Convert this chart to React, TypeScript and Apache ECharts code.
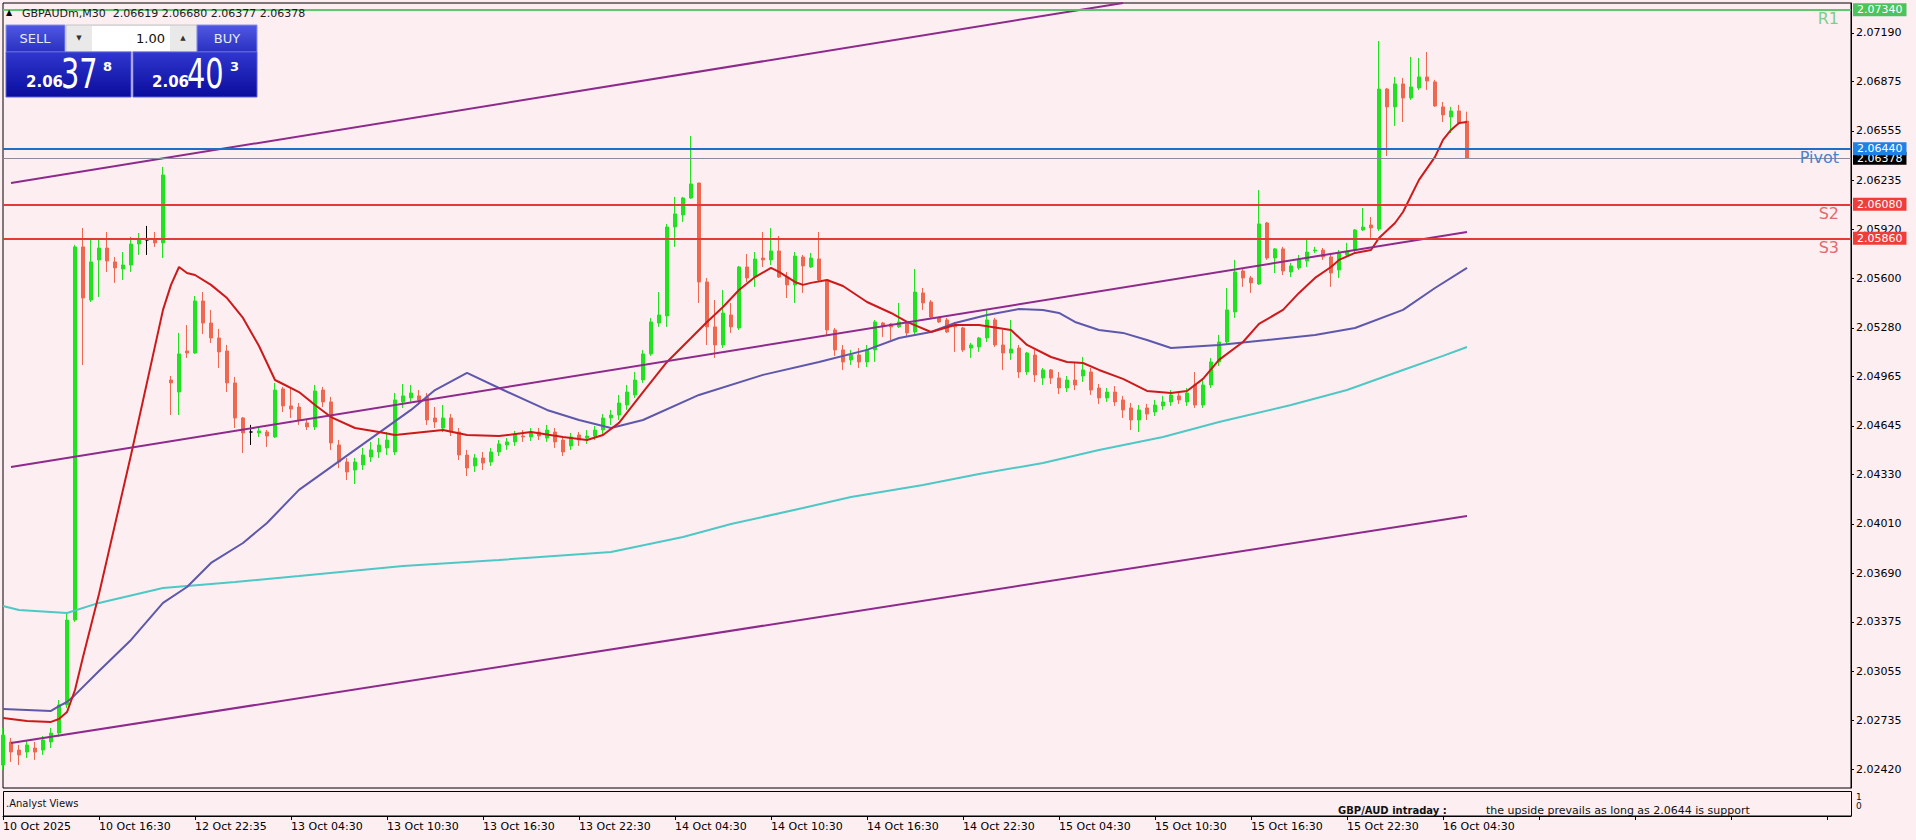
import React, { useEffect, useRef } from "react";
import * as echarts from "echarts";

// ---------- DATA ----------
const symbolTitle = "GBPAUDm,M30";
const xLabels = [
  "10 Oct 2025", "10 Oct 16:30", "12 Oct 22:35", "13 Oct 04:30", "13 Oct 10:30", "13 Oct 16:30",
  "13 Oct 22:30", "14 Oct 04:30", "14 Oct 10:30", "14 Oct 16:30", "14 Oct 22:30", "15 Oct 04:30",
  "15 Oct 10:30", "15 Oct 16:30", "15 Oct 22:30", "16 Oct 04:30",
];
const barsPerLabel = 12;
const totalSlots = 232;
const yTicks = [2.0719, 2.06875, 2.06555, 2.06235, 2.0592, 2.056, 2.0528, 2.04965, 2.04645, 2.0433, 2.0401, 2.0369, 2.03375, 2.03055, 2.02735, 2.0242];
const yMin = 2.02299;
const yMax = 2.07384;

// [open, high, low, close]
const ohlc: number[][] = [
  [2.02448, 2.02688, 2.02416, 2.02642], [2.02597, 2.02623, 2.02468, 2.02532], [2.02545, 2.02578, 2.02448, 2.02513],
  [2.02532, 2.0261, 2.02493, 2.02578], [2.02558, 2.02597, 2.02481, 2.02532], [2.02545, 2.02636, 2.02513, 2.0261],
  [2.02597, 2.02688, 2.02558, 2.02655], [2.02655, 2.02869, 2.0263, 2.02837], [2.02837, 2.03433, 2.02817, 2.03387],
  [2.03387, 2.05817, 2.03375, 2.05804], [2.05804, 2.05927, 2.05039, 2.05473], [2.0546, 2.05862, 2.05447, 2.05707],
  [2.0572, 2.05849, 2.0548, 2.05797], [2.05797, 2.05901, 2.05642, 2.05713], [2.05707, 2.05739, 2.05571, 2.05668],
  [2.05661, 2.05771, 2.0559, 2.05687], [2.05687, 2.05869, 2.05642, 2.05823], [2.05823, 2.05894, 2.05752, 2.05856],
  [2.05849, 2.0594, 2.05752, 2.05849], [2.05856, 2.05901, 2.05804, 2.0583], [2.0583, 2.06322, 2.05732, 2.0627],
  [2.04942, 2.04968, 2.04715, 2.04923], [2.04864, 2.05247, 2.04715, 2.05111], [2.0513, 2.05298, 2.05085, 2.05117],
  [2.05117, 2.05486, 2.05111, 2.05454], [2.05454, 2.05512, 2.0524, 2.05311], [2.05311, 2.05396, 2.05182, 2.05214],
  [2.05214, 2.05273, 2.0502, 2.05124], [2.0513, 2.05169, 2.04864, 2.04923], [2.04923, 2.04962, 2.04631, 2.04696],
  [2.04696, 2.04702, 2.04469, 2.04599], [2.04605, 2.04651, 2.04521, 2.04605], [2.04599, 2.04638, 2.04573, 2.04612],
  [2.04605, 2.04618, 2.04508, 2.04579], [2.04573, 2.04923, 2.04566, 2.04877], [2.04884, 2.04897, 2.04735, 2.04774],
  [2.04774, 2.0489, 2.04696, 2.04754], [2.04767, 2.04793, 2.04651, 2.04683], [2.04664, 2.04683, 2.04618, 2.04638],
  [2.04638, 2.0491, 2.04618, 2.04871], [2.04877, 2.04897, 2.04767, 2.048], [2.048, 2.04832, 2.04489, 2.04534],
  [2.04521, 2.04553, 2.04372, 2.04411], [2.04411, 2.04437, 2.04294, 2.04346], [2.04359, 2.04437, 2.04268, 2.04411],
  [2.04392, 2.04502, 2.04359, 2.04456], [2.04443, 2.04541, 2.04411, 2.04489], [2.04476, 2.04566, 2.04437, 2.04521],
  [2.04502, 2.04605, 2.04456, 2.04553], [2.04476, 2.04858, 2.04456, 2.04813], [2.048, 2.04916, 2.04761, 2.04839],
  [2.04826, 2.0491, 2.048, 2.04858], [2.04839, 2.04877, 2.0478, 2.04813], [2.04832, 2.04858, 2.04651, 2.04683],
  [2.04696, 2.04767, 2.04631, 2.0467], [2.04631, 2.0478, 2.04605, 2.04696], [2.04696, 2.04722, 2.04579, 2.04605],
  [2.04605, 2.04631, 2.04424, 2.04456], [2.04456, 2.04489, 2.0432, 2.04372], [2.04385, 2.04463, 2.04346, 2.04437],
  [2.04437, 2.04476, 2.04359, 2.04404], [2.04411, 2.04502, 2.04385, 2.04476], [2.04476, 2.04553, 2.0445, 2.04528],
  [2.04521, 2.04566, 2.04489, 2.04541], [2.04541, 2.04612, 2.04515, 2.04586], [2.04579, 2.04618, 2.04541, 2.04573],
  [2.04573, 2.04631, 2.04547, 2.04605], [2.04605, 2.04631, 2.04553, 2.04579], [2.04566, 2.04651, 2.04541, 2.04618],
  [2.04605, 2.04631, 2.04502, 2.04541], [2.04553, 2.04579, 2.0445, 2.04476], [2.04515, 2.04599, 2.04489, 2.04573],
  [2.04586, 2.04605, 2.04515, 2.04553], [2.04566, 2.04618, 2.04528, 2.04579], [2.04579, 2.04644, 2.04553, 2.04618],
  [2.04618, 2.04722, 2.04592, 2.04696], [2.04696, 2.04748, 2.04651, 2.04715], [2.04715, 2.04845, 2.04683, 2.04793],
  [2.0478, 2.0491, 2.04748, 2.04864], [2.04845, 2.04994, 2.04826, 2.04942], [2.04942, 2.05137, 2.04923, 2.05111],
  [2.05111, 2.05344, 2.05098, 2.05318], [2.05311, 2.05512, 2.05286, 2.05363], [2.05357, 2.05953, 2.05286, 2.05933],
  [2.05933, 2.06128, 2.05804, 2.06018], [2.06011, 2.06128, 2.05966, 2.06121], [2.06121, 2.06523, 2.06115, 2.06212],
  [2.06218, 2.06218, 2.05441, 2.05577], [2.05577, 2.05603, 2.05169, 2.05286], [2.05286, 2.0546, 2.05085, 2.05169],
  [2.05169, 2.05525, 2.05149, 2.05376], [2.05363, 2.05441, 2.05247, 2.05286], [2.05279, 2.05681, 2.05266, 2.05674],
  [2.05674, 2.05758, 2.05577, 2.05603], [2.05609, 2.05771, 2.05545, 2.05726], [2.05732, 2.05901, 2.05674, 2.0572],
  [2.0572, 2.05927, 2.05687, 2.05778], [2.05778, 2.05875, 2.05603, 2.05609], [2.05609, 2.05642, 2.05473, 2.05558],
  [2.05558, 2.05771, 2.05441, 2.05745], [2.05739, 2.05752, 2.05506, 2.05681], [2.05674, 2.05765, 2.05668, 2.05732],
  [2.05726, 2.05901, 2.05577, 2.0559], [2.0559, 2.0559, 2.05234, 2.05266], [2.05266, 2.05279, 2.05098, 2.05137],
  [2.05137, 2.05169, 2.05007, 2.05059], [2.05072, 2.05137, 2.05039, 2.05104], [2.05104, 2.05149, 2.0502, 2.05059],
  [2.05059, 2.05169, 2.05026, 2.05137], [2.05137, 2.05331, 2.05059, 2.05318], [2.05311, 2.05318, 2.05221, 2.05286],
  [2.05305, 2.05311, 2.05201, 2.05286], [2.05286, 2.05441, 2.05279, 2.05318], [2.05311, 2.05318, 2.05221, 2.05247],
  [2.05253, 2.05661, 2.0524, 2.05512], [2.05506, 2.05538, 2.05396, 2.05441], [2.05447, 2.0546, 2.05344, 2.0535],
  [2.05344, 2.0535, 2.05311, 2.05318], [2.05331, 2.05344, 2.05247, 2.05253], [2.05298, 2.05318, 2.05124, 2.05286],
  [2.05279, 2.05286, 2.05124, 2.05137], [2.05149, 2.05182, 2.05085, 2.05169], [2.05156, 2.05221, 2.05124, 2.05214],
  [2.05214, 2.05396, 2.05188, 2.05331], [2.05331, 2.05344, 2.05156, 2.05169], [2.05169, 2.05266, 2.05007, 2.05117],
  [2.05117, 2.05331, 2.05072, 2.05143], [2.05149, 2.05169, 2.04955, 2.04994], [2.04994, 2.05124, 2.04975, 2.05117],
  [2.05104, 2.05137, 2.04929, 2.04975], [2.04955, 2.0502, 2.0491, 2.05007], [2.05007, 2.05013, 2.04916, 2.04955],
  [2.04955, 2.04994, 2.04851, 2.0489], [2.0489, 2.04968, 2.04864, 2.04942], [2.04942, 2.05052, 2.04877, 2.0491],
  [2.04968, 2.05091, 2.04929, 2.05007], [2.04994, 2.0502, 2.04845, 2.04877], [2.0489, 2.04916, 2.04787, 2.04826],
  [2.04826, 2.0489, 2.048, 2.04864], [2.04864, 2.04903, 2.04774, 2.048], [2.04813, 2.04839, 2.04696, 2.04748],
  [2.04761, 2.04793, 2.04618, 2.04683], [2.04683, 2.0478, 2.04605, 2.04748], [2.04761, 2.04787, 2.04683, 2.04722],
  [2.04735, 2.04813, 2.04709, 2.0478], [2.04774, 2.04839, 2.04748, 2.048], [2.048, 2.04877, 2.04774, 2.04845],
  [2.04839, 2.04864, 2.04787, 2.04813], [2.048, 2.0489, 2.04774, 2.04858], [2.0491, 2.04994, 2.04761, 2.0478],
  [2.0478, 2.04955, 2.04761, 2.0491], [2.0491, 2.05085, 2.0489, 2.05059], [2.05059, 2.05234, 2.05033, 2.05188],
  [2.05188, 2.05538, 2.05169, 2.05396], [2.05383, 2.0572, 2.05344, 2.05642], [2.05648, 2.05668, 2.05545, 2.05603],
  [2.05603, 2.05616, 2.05506, 2.05571], [2.05564, 2.06173, 2.05558, 2.05953], [2.05959, 2.05966, 2.0572, 2.05732],
  [2.05732, 2.05797, 2.05635, 2.05791], [2.05791, 2.05804, 2.05622, 2.05648], [2.05642, 2.057, 2.05609, 2.05681],
  [2.05668, 2.05752, 2.05655, 2.0572], [2.05713, 2.05849, 2.05674, 2.05771], [2.05778, 2.05804, 2.05765, 2.05784],
  [2.05784, 2.05797, 2.0572, 2.05739], [2.05739, 2.05765, 2.05545, 2.05635], [2.05655, 2.05784, 2.05603, 2.05765],
  [2.05752, 2.0583, 2.05739, 2.05771], [2.05784, 2.0592, 2.05771, 2.05914], [2.05914, 2.06056, 2.05907, 2.05933],
  [2.05946, 2.05998, 2.05862, 2.05927], [2.0592, 2.07138, 2.05907, 2.06827], [2.06827, 2.06834, 2.06393, 2.06711],
  [2.06711, 2.06905, 2.06588, 2.0686], [2.0686, 2.06899, 2.06613, 2.06769], [2.06769, 2.07035, 2.06756, 2.0684],
  [2.06834, 2.07028, 2.06821, 2.06905], [2.06905, 2.07067, 2.06821, 2.06879], [2.06873, 2.06886, 2.06711, 2.06717],
  [2.06711, 2.06743, 2.06613, 2.06659], [2.06646, 2.06711, 2.06542, 2.06685], [2.06685, 2.06724, 2.06601, 2.06607],
  [2.06619, 2.0668, 2.06377, 2.06378],
];

// moving averages: [bar index, price]
const fastMA: number[][] = [
  [0, 2.02753], [3, 2.02733], [6, 2.02727], [7, 2.02746], [8, 2.02791], [9, 2.02934], [10, 2.03148], [12, 2.03556],
  [16, 2.04456], [20, 2.05396], [21, 2.05558], [22, 2.05674], [23, 2.05635], [24, 2.05622], [26, 2.05558],
  [28, 2.05473], [30, 2.05344], [32, 2.05162], [34, 2.04942], [35, 2.04916], [37, 2.04864], [39, 2.0478],
  [41, 2.04702], [44, 2.04631], [47, 2.04605], [49, 2.04586], [55, 2.04618], [58, 2.04586], [62, 2.04579],
  [66, 2.04605], [70, 2.04573], [73, 2.04553], [75, 2.04586], [77, 2.04664], [80, 2.04864], [83, 2.05059],
  [86, 2.05214], [88, 2.05318], [90, 2.05415], [92, 2.05525], [94, 2.05609], [96, 2.05668], [97, 2.05642],
  [99, 2.05577], [100, 2.05558], [101, 2.05571], [103, 2.0559], [105, 2.05551], [108, 2.05447], [111, 2.05376],
  [113, 2.05318], [116, 2.05253], [119, 2.05298], [122, 2.05298], [126, 2.05266], [128, 2.05169], [131, 2.05091],
  [133, 2.05059], [135, 2.05052], [137, 2.05007], [140, 2.04949], [143, 2.04871], [146, 2.04858], [148, 2.04871],
  [150, 2.04949], [152, 2.05072], [155, 2.05188], [157, 2.05305], [160, 2.05396], [162, 2.05506], [164, 2.05603],
  [166, 2.05674], [167, 2.0572], [169, 2.05765], [171, 2.05784], [172, 2.05862], [174, 2.05959], [175, 2.0603],
  [177, 2.06238], [179, 2.06387], [180, 2.06497], [181, 2.06562], [182, 2.06607], [183, 2.06613],
];
const midMA: number[][] = [
  [0, 2.02811], [6, 2.02798], [7, 2.0283], [8, 2.02856], [9, 2.02902], [12, 2.03057], [16, 2.03258], [20, 2.03498],
  [23, 2.03601], [26, 2.03757], [30, 2.03886], [33, 2.04016], [37, 2.0423], [44, 2.04489], [51, 2.04748],
  [54, 2.04877], [58, 2.04988], [62, 2.0489], [68, 2.04748], [72, 2.04683], [76, 2.04631], [80, 2.04683],
  [87, 2.04845], [95, 2.04975], [102, 2.05059], [108, 2.05137], [112, 2.05214], [116, 2.05253], [119, 2.05311],
  [123, 2.05363], [127, 2.05402], [130, 2.05396], [132, 2.05376], [134, 2.05318], [137, 2.05266], [140, 2.05247],
  [143, 2.05201], [146, 2.05149], [152, 2.05169], [158, 2.05201], [164, 2.05234], [169, 2.05279], [175, 2.05396],
  [179, 2.05538], [183, 2.05668],
];
const slowMA: number[][] = [
  [0, 2.03478], [2, 2.03452], [8, 2.03433], [12, 2.03498], [20, 2.03595], [29, 2.03634], [37, 2.03672],
  [50, 2.03737], [62, 2.03776], [76, 2.03828], [85, 2.03925], [91, 2.04009], [100, 2.04113], [106, 2.04184],
  [115, 2.04262], [122, 2.04333], [130, 2.04404], [137, 2.04489], [145, 2.04573], [152, 2.0467], [161, 2.0478],
  [168, 2.04877], [175, 2.05007], [180, 2.05098], [183, 2.05156],
];
const channelUpper: number[][] = [[1, 2.06218], [140, 2.07384]];
const channelMiddle: number[][] = [[1, 2.04378], [183, 2.05901]];
const channelLower: number[][] = [[1, 2.0259], [183, 2.04061]];

const levelNames = ["R1", "Pivot", "S2", "S3"];
const levelValues = [2.0734, 2.0644, 2.0608, 2.0586];
const lotSize = "1.00";
const sellQuote = ["2.06", "37", "8"];
const buyQuote = ["2.06", "40", "3"];
const panelTitle = ".Analyst Views";
const viewHead = "GBP/AUD intraday :";
const viewText = "the upside prevails as long as 2.0644 is support";

// ---------- STYLE ----------
const BG = "#fdeef2";
const FONT = "DejaVu Sans";
const BULL = "#1ee31e";
const BEAR = "#f0674f";
const levelStyles = [
  { line: "#56c566", text: "#7ccf89", tag: "#4cc35c", width: 1.5 },
  { line: "#1f6ec4", text: "#4584c8", tag: "#1f80e6", width: 2 },
  { line: "#e23b37", text: "#e26a6a", tag: "#ef3e3a", width: 2 },
  { line: "#e23b37", text: "#e26a6a", tag: "#ef3e3a", width: 2 },
];

export default function App() {
  const ref = useRef<HTMLDivElement>(null);

  useEffect(() => {
    document.body.style.margin = "0";
    document.body.style.background = BG;
    if (!ref.current) return;
    const chart = echarts.init(ref.current, undefined, { renderer: "svg" });

    const categories = Array.from({ length: totalSlots }, (_, i) => String(i));
    const candleData = ohlc.map(([o, h, l, c]) =>
      o === c
        ? { value: [o, c, l, h], itemStyle: { color: "#000", color0: "#000", borderColor: "#000", borderColor0: "#000" } }
        : [o, c, l, h]
    );
    const last = ohlc[ohlc.length - 1];
    const lastPrice = last[3];
    const header = `${symbolTitle}  ${last.map((v) => v.toFixed(5)).join(" ")}`;

    const tagLabel = (text: string, bg: string) => ({
      show: true, position: "end", formatter: text, color: "#fff", backgroundColor: bg,
      padding: [1, 4, 0, 4], fontSize: 11, fontFamily: FONT, distance: 2, lineHeight: 12,
    });
    const mk = (data: any[]) => ({ silent: true, precision: 5, symbol: ["none", "none"], animation: false, data });

    const levelSeries: any[] = [];
    levelSeries.push({
      type: "line", data: [], silent: true, clip: false, z: 4,
      markLine: mk([{ yAxis: lastPrice, lineStyle: { color: "#8a8a9c", width: 1, type: "solid" }, label: tagLabel(lastPrice.toFixed(5), "#000") }]),
    });
    levelValues.forEach((v, i) => {
      const s = levelStyles[i];
      levelSeries.push({
        type: "line", data: [], silent: true, clip: false, z: 5,
        markLine: mk([
          {
            yAxis: v, lineStyle: { color: s.line, width: s.width, type: "solid" },
            label: { show: true, position: "insideEndBottom", formatter: levelNames[i], color: s.text, fontSize: 16, fontFamily: FONT, distance: [12, 1] },
          },
        ]),
      });
      levelSeries.push({
        type: "line", data: [], silent: true, clip: false, z: 6,
        markLine: mk([{ yAxis: v, lineStyle: { color: s.line, width: s.width, type: "solid" }, label: tagLabel(v.toFixed(5), s.tag) }]),
      });
    });

    const grad = (a: string, b: string) =>
      new echarts.graphic.LinearGradient(0, 0, 0, 1, [
        { offset: 0, color: a },
        { offset: 1, color: b },
      ]);
    const txt = (x: number, y: number, text: string, font: string, fill: string, align = "left", extra: any = {}) => ({
      type: "text", x, y, z: 100, ...extra,
      style: { text, font, fill, align, verticalAlign: "middle" },
    });

    const graphic: any[] = [
      txt(6, 12, "▲", `8px ${FONT}`, "#000"),
      txt(22, 13, header, `11px ${FONT}`, "#1a1a1a"),
      // one-click trading panel
      { type: "rect", z: 100, shape: { x: 6, y: 25, width: 59, height: 27 }, style: { fill: grad("#5058e2", "#2a30c2"), stroke: "#8a90f0", lineWidth: 1 } },
      txt(35, 38, "SELL", `13px ${FONT}`, "#e6eaff", "center"),
      { type: "rect", z: 100, shape: { x: 66, y: 25, width: 131, height: 27 }, style: { fill: "#e9e9e9", stroke: "#c4c4c4", lineWidth: 1 } },
      { type: "rect", z: 100, shape: { x: 92, y: 26, width: 78, height: 25 }, style: { fill: "#ffffff" } },
      txt(79, 38, "▼", `7px ${FONT}`, "#333", "center"),
      txt(183, 38, "▲", `7px ${FONT}`, "#333", "center"),
      txt(165, 38, lotSize, `13px ${FONT}`, "#111", "right"),
      { type: "rect", z: 100, shape: { x: 197, y: 25, width: 60, height: 27 }, style: { fill: grad("#5058e2", "#2a30c2"), stroke: "#8a90f0", lineWidth: 1 } },
      txt(227, 38, "BUY", `13px ${FONT}`, "#e6eaff", "center"),
      { type: "rect", z: 100, shape: { x: 6, y: 52, width: 125, height: 45 }, style: { fill: grad("#3037cf", "#0a0c9c"), stroke: "#5a60d8", lineWidth: 1 } },
      { type: "rect", z: 100, shape: { x: 133, y: 52, width: 124, height: 45 }, style: { fill: grad("#3037cf", "#0a0c9c"), stroke: "#5a60d8", lineWidth: 1 } },
      txt(26, 82, sellQuote[0], `bold 15px ${FONT}`, "#fff"),
      txt(61, 74, sellQuote[1], `40px ${FONT}`, "#fff", "left", { scaleX: 0.72 }),
      txt(103, 66, sellQuote[2], `bold 13px ${FONT}`, "#fff"),
      txt(152, 82, buyQuote[0], `bold 15px ${FONT}`, "#fff"),
      txt(187, 74, buyQuote[1], `40px ${FONT}`, "#fff", "left", { scaleX: 0.72 }),
      txt(230, 66, buyQuote[2], `bold 13px ${FONT}`, "#fff"),
      // indicator sub-window
      { type: "rect", z: 100, shape: { x: 3.5, y: 791.5, width: 1848, height: 24.5 }, style: { fill: "none", stroke: "#000", lineWidth: 1 } },
      txt(6, 803, panelTitle, `10px ${FONT}`, "#111"),
      txt(1338, 810, viewHead, `bold 10px ${FONT}`, "#111"),
      txt(1486, 810, viewText, `11px ${FONT}`, "#111"),
      txt(1856, 797, "1", `9px ${FONT}`, "#111"),
      txt(1856, 806, "0", `9px ${FONT}`, "#111"),
    ];

    const lineSeries = (data: number[][], color: string, width: number) => ({
      type: "line", data, showSymbol: false, symbol: "none", silent: true,
      lineStyle: { color, width }, z: 3,
    });

    chart.setOption({
      animation: false,
      backgroundColor: BG,
      grid: { left: 3, top: 3, width: 1848, height: 785, show: true, borderColor: "#000", borderWidth: 1, backgroundColor: "transparent", containLabel: false },
      xAxis: {
        type: "category", data: categories, boundaryGap: false, offset: 28,
        axisLine: { show: true, onZero: false, lineStyle: { color: "#000", width: 1 } },
        axisTick: { show: true, interval: barsPerLabel - 1, length: 4, lineStyle: { color: "#000" } },
        axisLabel: {
          interval: barsPerLabel - 1, align: "left", margin: 5, color: "#000", fontSize: 11, fontFamily: FONT,
          formatter: (_v: string, i: number) => (i % barsPerLabel === 0 && xLabels[i / barsPerLabel]) || "",
        },
        splitLine: { show: false },
      },
      yAxis: {
        type: "value", position: "right", min: yMin, max: yMax, scale: true,
        splitLine: { show: false },
        axisLine: { show: true, lineStyle: { color: "#000" } },
        axisTick: { show: true, length: 3, customValues: yTicks, lineStyle: { color: "#000" } },
        axisLabel: { customValues: yTicks, formatter: (v: number) => v.toFixed(5), color: "#000", fontSize: 11, fontFamily: FONT, margin: 5 },
      },
      graphic,
      series: [
        {
          type: "candlestick", data: candleData, barWidth: 4, z: 2,
          itemStyle: { color: BULL, color0: BEAR, borderColor: BULL, borderColor0: BEAR, borderColorDoji: "#000", borderWidth: 1 },
        },
        lineSeries(slowMA, "#4ec8c5", 2),
        lineSeries(midMA, "#5d58ab", 2),
        lineSeries(fastMA, "#cc1a1a", 2),
        lineSeries(channelUpper, "#8e2a8c", 2),
        lineSeries(channelMiddle, "#8e2a8c", 2),
        lineSeries(channelLower, "#8e2a8c", 2),
        ...levelSeries,
      ],
    });

    return () => chart.dispose();
  }, []);

  return <div ref={ref} style={{ width: 1916, height: 840, background: BG }} />;
}
